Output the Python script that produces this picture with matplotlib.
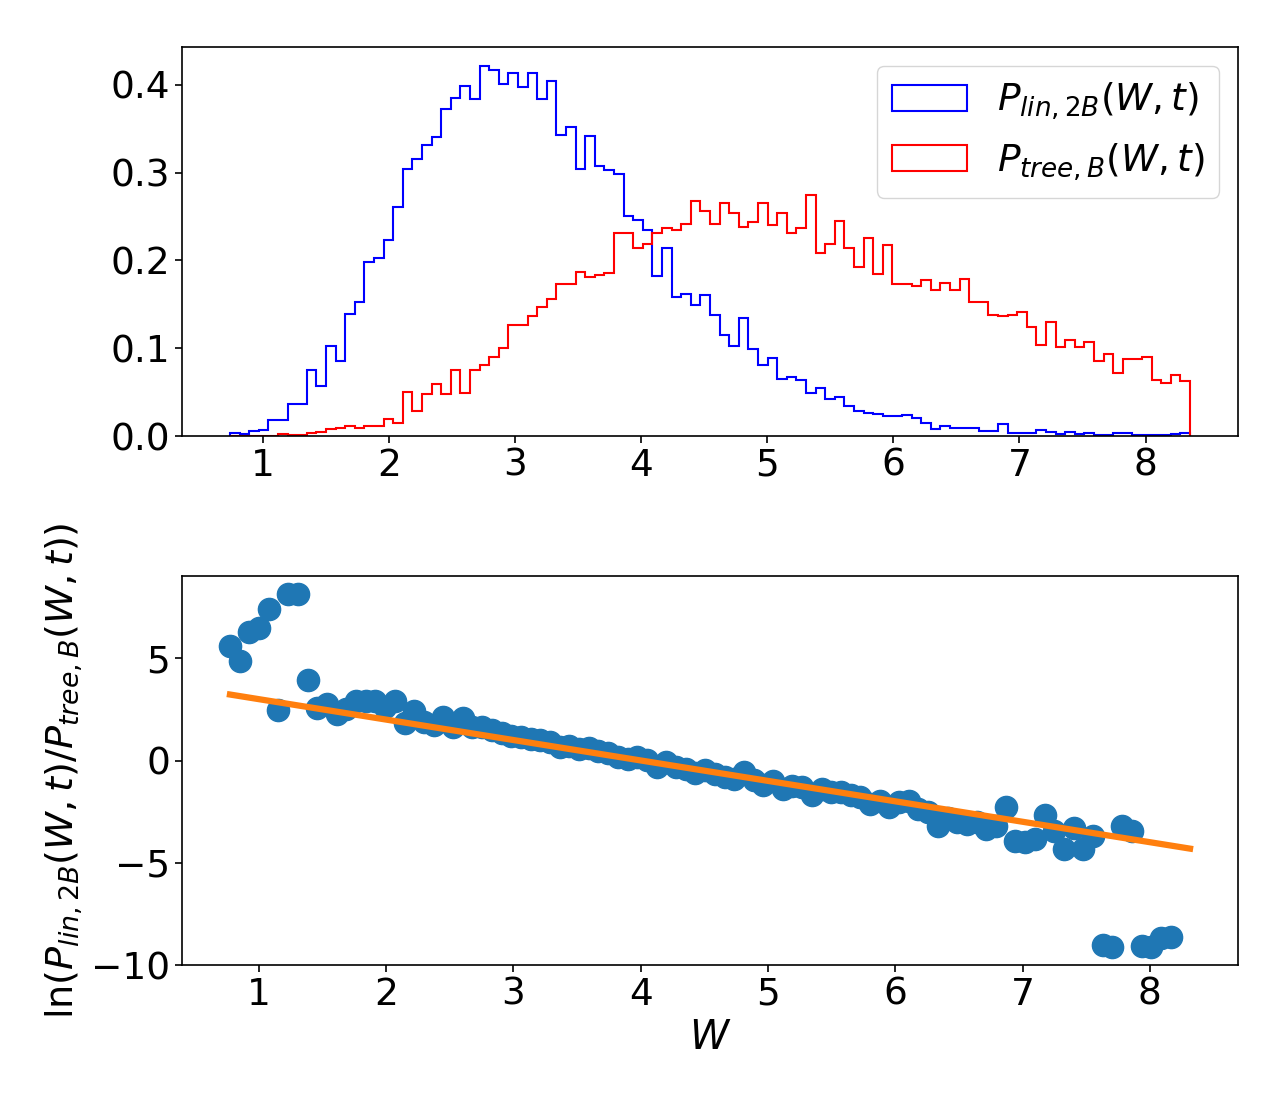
import numpy as np
import matplotlib
matplotlib.use("Agg")
import matplotlib.pyplot as plt

# ── data ───────────────────────────────────────────────────
w_min, w_max, n_bins = 0.736, 8.353, 100

p_lin_2b = [
    0.0034, 0.002, 0.006, 0.007, 0.018, 0.018, 0.036, 0.036, 0.075, 0.057,
    0.103, 0.086, 0.139, 0.153, 0.198, 0.203, 0.223, 0.261, 0.304, 0.315,
    0.331, 0.341, 0.372, 0.385, 0.399, 0.384, 0.422, 0.417, 0.401, 0.413,
    0.397, 0.413, 0.384, 0.404, 0.343, 0.352, 0.304, 0.342, 0.3075, 0.3025,
    0.299, 0.251, 0.246, 0.2345, 0.182, 0.2136, 0.1585, 0.162, 0.149, 0.1604,
    0.1376, 0.1148, 0.103, 0.1345, 0.099, 0.0806, 0.089, 0.0646, 0.067, 0.064,
    0.049, 0.0547, 0.0426, 0.0445, 0.0342, 0.028, 0.0266, 0.0255, 0.0232, 0.0232,
    0.0243, 0.0205, 0.0152, 0.0084, 0.0114, 0.009, 0.009, 0.009, 0.006, 0.006,
    0.0137, 0.0034, 0.0034, 0.0034, 0.0072, 0.005, 0.0023, 0.005, 0.0023, 0.003,
    0.001, 0.001, 0.003, 0.003, 0.001, 0.001, 0.001, 0.001, 0.002, 0.003,
]

p_tree_b = [
    0.0, 0.0, 0.0, 0.0, 0.0, 0.002, 0.001, 0.001, 0.003, 0.0046,
    0.0076, 0.009, 0.0114, 0.009, 0.0114, 0.0114, 0.019, 0.0148, 0.0498, 0.0285,
    0.0483, 0.0593, 0.0483, 0.075, 0.0494, 0.075, 0.0806, 0.090, 0.100, 0.127,
    0.126, 0.137, 0.147, 0.1566, 0.173, 0.173, 0.187, 0.181, 0.183, 0.186,
    0.2307, 0.2307, 0.214, 0.219, 0.2307, 0.2364, 0.2345, 0.241, 0.2676, 0.2566,
    0.242, 0.265, 0.2535, 0.238, 0.244, 0.265, 0.240, 0.2535, 0.2307, 0.2364,
    0.2744, 0.208, 0.219, 0.245, 0.2136, 0.1927, 0.225, 0.184, 0.218, 0.173,
    0.173, 0.1707, 0.1775, 0.166, 0.1745, 0.166, 0.1787, 0.153, 0.1524, 0.138,
    0.1368, 0.1383, 0.141, 0.1247, 0.1038, 0.1296, 0.1018, 0.1095, 0.1018, 0.1068,
    0.0859, 0.0931, 0.0715, 0.0874, 0.0874, 0.0905, 0.0639, 0.060, 0.0696, 0.0627,
]

# ln ratio per bin (bins 98, 99 have no point)
log_ratio_bins = list(range(98))
log_ratio = [
    5.59, 4.90, 6.29, 6.50, 7.43, 2.48, 8.17, 8.17, 3.95, 2.58,
    2.78, 2.29, 2.53, 2.94, 2.94, 2.94, 2.61, 2.94, 1.83, 2.45,
    1.88, 1.75, 2.12, 1.64, 2.09, 1.65, 1.67, 1.50, 1.36, 1.21,
    1.14, 1.06, 1.00, 0.90, 0.67, 0.70, 0.56, 0.62, 0.49, 0.39,
    0.18, 0.10, 0.16, 0.05, -0.30, -0.08, -0.31, -0.41, -0.59, -0.46,
    -0.65, -0.80, -0.88, -0.57, -0.95, -1.18, -1.01, -1.37, -1.23, -1.30,
    -1.67, -1.39, -1.54, -1.55, -1.70, -1.80, -2.11, -1.99, -2.27, -2.04,
    -1.99, -2.35, -2.53, -3.22, -2.81, -3.00, -3.09, -3.02, -3.33, -3.22,
    -2.29, -3.95, -4.00, -3.84, -2.65, -3.46, -4.31, -3.30, -4.31, -3.68,
    -9.02, -9.10, -3.22, -3.46, -9.05, -9.10, -8.69, -8.61,
]

# linear fit of the log ratio
fit_slope, fit_intercept = -1.0, 4.01

# ── figure ─────────────────────────────────────────────────
edges = np.linspace(w_min, w_max, n_bins + 1)
centers = 0.5 * (edges[:-1] + edges[1:])

fig, (ax1, ax2) = plt.subplots(2, 1, figsize=(12.86, 11.01), dpi=100)
fig.subplots_adjust(left=0.1415, right=0.9627, bottom=0.1235, top=0.9573, hspace=0.36)

ax1.hist(centers, bins=edges, weights=p_lin_2b, histtype="step", color="blue",
         linewidth=1.5, label=r"$P_{lin,2B}(W,t)$")
ax1.hist(centers, bins=edges, weights=p_tree_b, histtype="step", color="red",
         linewidth=1.5, label=r"$P_{tree,B}(W,t)$")
ax1.set_yticks([0.0, 0.1, 0.2, 0.3, 0.4])
ax1.legend(loc="upper right", fontsize=27)

x_pts = centers[log_ratio_bins]
ax2.plot(x_pts, log_ratio, "o", color="C0", markersize=16)
ax2.plot(centers, fit_intercept + fit_slope * centers, color="C1", linewidth=4.5)
ax2.set_yticks([5, 0, -5, -10])
ax2.set_xlabel(r"$W$", fontsize=28.5)
ax2.set_ylabel(r"$\ln(P_{lin,2B}(W,t)/P_{tree,B}(W,t))$", fontsize=27.5)

for ax in (ax1, ax2):
    ax.tick_params(labelsize=27, width=1.2, length=5)
    for s in ax.spines.values():
        s.set_linewidth(1.2)

plt.savefig("out.png", dpi=100)
